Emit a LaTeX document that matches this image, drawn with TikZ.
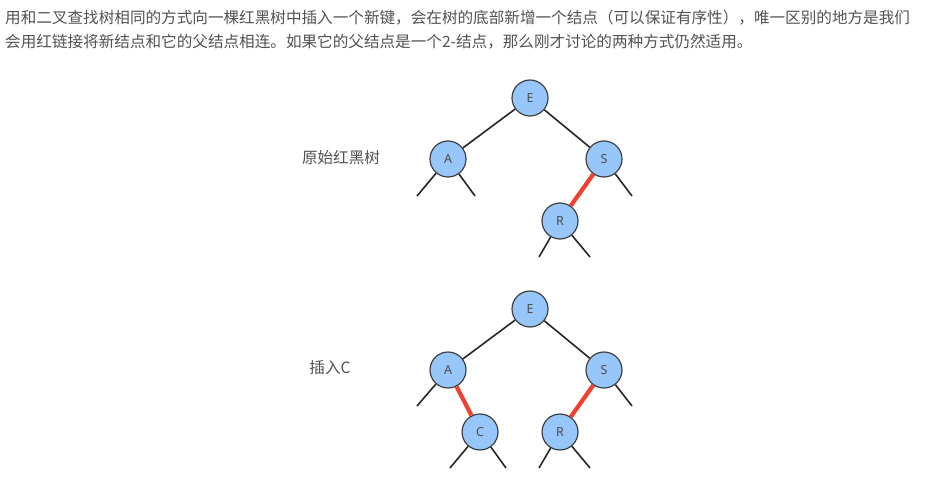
\documentclass[tikz,border=0pt]{standalone}
\usepackage{fontspec}
\setmainfont{Noto Sans}
\newfontfamily\cjk{Noto Sans CJK SC}
\begin{document}
\begin{tikzpicture}[x=1pt,y=-1pt,
  rb/.style={circle,draw=black!75,line width=1.2pt,fill=nodeblue,minimum size=36pt,inner sep=0pt,font=\fontsize{12.5}{14}\selectfont,text=black!70},
  blk/.style={draw=black!85,line width=1.6pt},
  red/.style={draw=redlink,line width=4.2pt},
  txt/.style={font=\cjk\fontsize{15.6}{18}\selectfont,text=black!68,inner sep=0pt},
]
\definecolor{nodeblue}{RGB}{150,198,250}
\definecolor{redlink}{RGB}{240,64,48}
\useasboundingbox (0,0) rectangle (936,478);
\fill[white] (0,0) rectangle (936,478);
% header text
\node[txt,anchor=west] (t1) at (5,18) {用和二叉查找树相同的方式向一棵红黑树中插入一个新键，会在树的底部新增一个结点（可以保证有序性），唯一区别的地方是我们};
\node[txt,anchor=west] (t2) at (5,42) {会用红链接将新结点和它的父结点相连。如果它的父结点是一个2-结点，那么刚才讨论的两种方式仍然适用。};
% labels
\node[txt] (l1) at (341,158) {原始红黑树};
\node[txt] (l2) at (330,368) {插入C};
% top tree
\node[rb] (E1) at (530,98) {E};
\node[rb] (A1) at (448,159) {A};
\node[rb] (S1) at (604,159) {S};
\node[rb] (R1) at (560,221) {R};
\coordinate (a1l) at (417,196);
\coordinate (a1r) at (475,196);
\coordinate (s1r) at (632,196);
\coordinate (r1l) at (539,257);
\coordinate (r1r) at (590,257);
\draw[blk] (E1) -- (A1);
\draw[blk] (E1) -- (S1);
\draw[red] (S1) -- (R1);
\draw[blk] (A1) -- (a1l);
\draw[blk] (A1) -- (a1r);
\draw[blk] (S1) -- (s1r);
\draw[blk] (R1) -- (r1l);
\draw[blk] (R1) -- (r1r);
% bottom tree
\node[rb] (E2) at (530,309) {E};
\node[rb] (A2) at (448,370) {A};
\node[rb] (S2) at (604,370) {S};
\node[rb] (C2) at (480,432) {C};
\node[rb] (R2) at (560,432) {R};
\coordinate (a2l) at (417,406);
\coordinate (s2r) at (632,406);
\coordinate (c2l) at (450,468);
\coordinate (c2r) at (506,468);
\coordinate (r2l) at (539,468);
\coordinate (r2r) at (590,468);
\draw[blk] (E2) -- (A2);
\draw[blk] (E2) -- (S2);
\draw[red] (A2) -- (C2);
\draw[red] (S2) -- (R2);
\draw[blk] (A2) -- (a2l);
\draw[blk] (S2) -- (s2r);
\draw[blk] (C2) -- (c2l);
\draw[blk] (C2) -- (c2r);
\draw[blk] (R2) -- (r2l);
\draw[blk] (R2) -- (r2r);
\end{tikzpicture}
\end{document}
